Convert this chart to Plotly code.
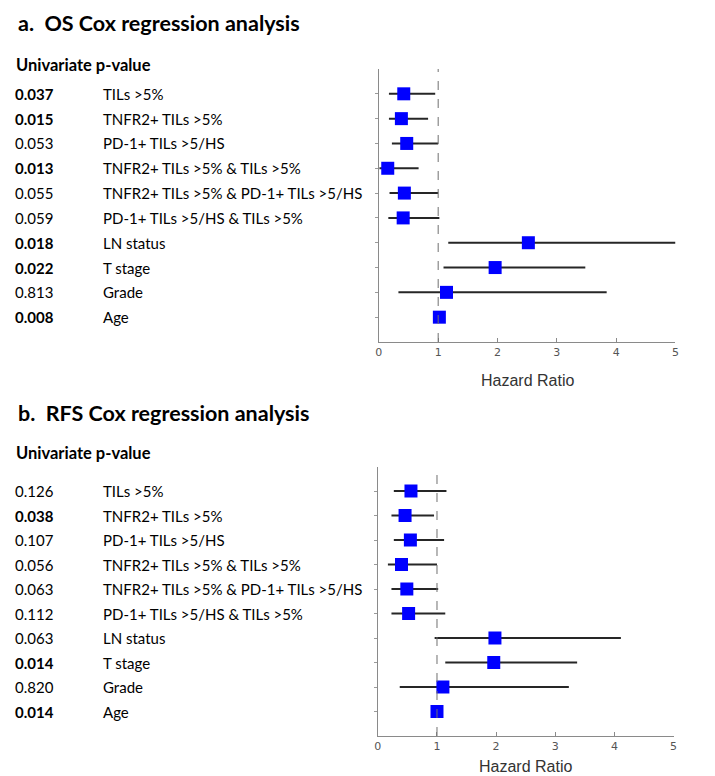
import plotly.graph_objects as go

W, H = 715, 776

variables = ["TILs >5%", "TNFR2+ TILs >5%", "PD-1+ TILs >5/HS",
             "TNFR2+ TILs >5% & TILs >5%", "TNFR2+ TILs >5% & PD-1+ TILs >5/HS",
             "PD-1+ TILs >5/HS & TILs >5%", "LN status", "T stage", "Grade", "Age"]
rows = list(range(1, 11))

# OS Cox regression
os_p = ["0.037", "0.015", "0.053", "0.013", "0.055", "0.059", "0.018", "0.022", "0.813", "0.008"]
os_hr = [0.42, 0.38, 0.47, 0.15, 0.43, 0.41, 2.52, 1.96, 1.14, 1.02]
os_lo = [0.17, 0.17, 0.22, 0.01, 0.18, 0.16, 1.17, 1.09, 0.33, 1.00]
os_hi = [0.95, 0.83, 1.00, 0.67, 1.00, 1.02, 5.00, 3.48, 3.84, 1.04]

# RFS Cox regression
rfs_p = ["0.126", "0.038", "0.107", "0.056", "0.063", "0.112", "0.063", "0.014", "0.820", "0.014"]
rfs_hr = [0.56, 0.46, 0.55, 0.40, 0.49, 0.52, 1.98, 1.96, 1.10, 1.00]
rfs_lo = [0.27, 0.23, 0.27, 0.17, 0.23, 0.23, 0.96, 1.14, 0.37, 0.99]
rfs_hi = [1.16, 0.95, 1.12, 1.00, 1.02, 1.14, 4.11, 3.37, 3.23, 1.02]

x_ticks = [0, 1, 2, 3, 4, 5]


def px(x):
    return x / W


def py(y):
    return 1 - y / H


fig = go.Figure()

for hr, lo, hi, xa, ya in [(os_hr, os_lo, os_hi, "x", "y"), (rfs_hr, rfs_lo, rfs_hi, "x2", "y2")]:
    fig.add_trace(go.Scatter(
        x=hr, y=rows, xaxis=xa, yaxis=ya, mode="markers",
        marker=dict(symbol="square", size=13, color="#0000FF", line=dict(width=0)),
        error_x=dict(type="data", symmetric=False,
                     array=[h - m for h, m in zip(hi, hr)],
                     arrayminus=[m - l for m, l in zip(hr, lo)],
                     color="#262626", thickness=2, width=0),
        showlegend=False, cliponaxis=False,
    ))

axis_common_x = dict(range=[0, 5], tickvals=x_ticks, ticktext=[str(t) for t in x_ticks],
                     showline=True, linecolor="#8a8a8a", linewidth=1, mirror=False,
                     ticks="inside", ticklen=4, tickcolor="#8a8a8a", showgrid=False,
                     zeroline=False, tickfont=dict(family="DejaVu Sans", size=11, color="#555555"),
                     fixedrange=True)
axis_common_y = dict(range=[11, 0], tickvals=rows, showticklabels=False,
                     showline=True, linecolor="#8a8a8a", linewidth=1, mirror=False,
                     ticks="outside", ticklen=3, tickcolor="#9a9a9a", showgrid=False,
                     zeroline=False, fixedrange=True)

fig.update_layout(
    width=W, height=H, margin=dict(l=0, r=0, t=0, b=0),
    paper_bgcolor="white", plot_bgcolor="white",
    xaxis=dict(domain=[px(371), px(671)], anchor="y", **axis_common_x),
    yaxis=dict(domain=[py(334), py(61)], anchor="x", **axis_common_y),
    xaxis2=dict(domain=[px(370), px(669)], anchor="y2", **axis_common_x),
    yaxis2=dict(domain=[py(728), py(458.5)], anchor="x2", **axis_common_y),
)

# reference lines at HR = 1
for xr, yr in [("x", "y domain"), ("x2", "y2 domain")]:
    fig.add_shape(type="line", x0=1, x1=1, y0=0, y1=1, xref=xr, yref=yr,
                  line=dict(color="#707070", width=1, dash="dash"))

TF = "Lato"
ann = []
for title, ty, uy, pvals, yr in [("a.&nbsp;&nbsp;OS Cox regression analysis", 15, 57, os_p, "y"),
                                  ("b.&nbsp;&nbsp;RFS Cox regression analysis", 405, 445, rfs_p, "y2")]:
    ann.append(dict(text="<b>" + title + "</b>", x=px(4), y=py(ty), xref="paper", yref="paper",
                    xanchor="left", yanchor="middle", showarrow=False,
                    font=dict(family=TF, size=21.5, color="black")))
    ann.append(dict(text="<b>Univariate p-value</b>", x=px(2), y=py(uy), xref="paper", yref="paper",
                    xanchor="left", yanchor="middle", showarrow=False,
                    font=dict(family=TF, size=16.5, color="black")))
    for r, p, v in zip(rows, pvals, variables):
        t = "<b>" + p + "</b>" if float(p) < 0.05 else p
        ann.append(dict(text=t, x=px(1), y=r, xref="paper", yref=yr,
                        xanchor="left", yanchor="middle", showarrow=False,
                        font=dict(family=TF, size=15, color="black")))
        ann.append(dict(text=v, x=px(90), y=r, xref="paper", yref=yr,
                        xanchor="left", yanchor="middle", showarrow=False,
                        font=dict(family=TF, size=15, color="black")))

for cx, hy in [(521, 372), (519, 758)]:
    ann.append(dict(text="Hazard Ratio", x=px(cx), y=py(hy), xref="paper", yref="paper",
                    xanchor="center", yanchor="middle", showarrow=False,
                    font=dict(family="Liberation Sans", size=16, color="#333333")))

fig.update_layout(annotations=ann)
fig.write_html("out.html")
